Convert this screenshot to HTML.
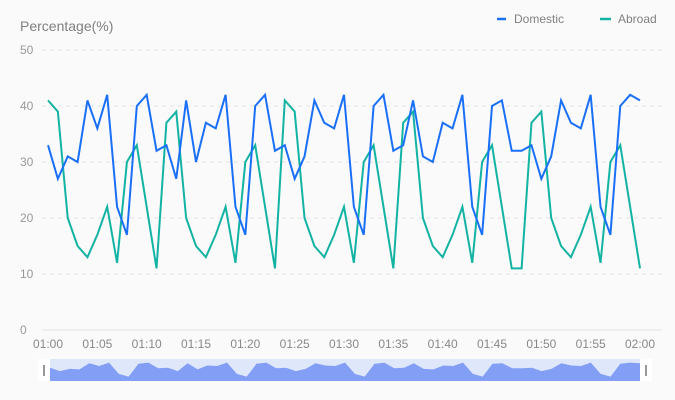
<!DOCTYPE html>
<html><head><meta charset="utf-8"><style>
html,body{margin:0;padding:0;background:#fafafa;}
svg{display:block;font-family:"Liberation Sans",sans-serif;}
</style></head><body>
<svg id="chart" width="675" height="400">
  <rect width="675" height="400" fill="#fafafa"/>
  <text x="20" y="31" font-size="14" fill="#808080">Percentage(%)</text>
  <g>
    <g>
      <line x1="497" y1="19" x2="506" y2="19" stroke="#1a6ff7" stroke-width="2.5"/>
      <text x="514" y="23" font-size="12" fill="#808080">Domestic</text>
    </g>
    <g>
      <line x1="600" y1="19" x2="611" y2="19" stroke="#13b3a3" stroke-width="2.5"/>
      <text x="618" y="23" font-size="12" fill="#808080">Abroad</text>
    </g>
  </g>
  <g id="grid"></g>
  <g id="ylabels"></g>
  <g id="xlabels"></g>
  <g id="series"></g>
  <g id="slider"></g>
</svg>
<script>
const domestic=[33,27,31,30,41,36,42,22,17,40,42,32,33,27,41,30,37,36,42,22,17,40,42,32,33,27,31,41,37,36,42,22,17,40,42,32,33,41,31,30,37,36,42,22,17,40,41,32,32,33,27,31,41,37,36,42,22,17,40,42,41];
const abroad=[41,39,20,15,13,17,22,12,30,33,22,11,37,39,20,15,13,17,22,12,30,33,22,11,41,39,20,15,13,17,22,12,30,33,22,11,37,39,20,15,13,17,22,12,30,33,22,11,11,37,39,20,15,13,17,22,12,30,33,22,11];
const yTicks=[0,10,20,30,40,50];
const xTickLabels=["01:00","01:05","01:10","01:15","01:20","01:25","01:30","01:35","01:40","01:45","01:50","01:55","02:00"];
const NS="http://www.w3.org/2000/svg";
const x0=48,x1=640,yTop=50,yBot=330;
const n=domestic.length;
function xs(i){return x0+(x1-x0)*i/(n-1);}
function ys(v){return yBot-(yBot-yTop)*v/50;}
function mk(tag,attrs,parent){const e=document.createElementNS(NS,tag);for(const k in attrs)e.setAttribute(k,attrs[k]);parent.appendChild(e);return e;}
const grid=document.getElementById('grid'),yl=document.getElementById('ylabels'),xl=document.getElementById('xlabels'),ser=document.getElementById('series'),sl=document.getElementById('slider');
yTicks.forEach(t=>{
  const g=mk('line',{x1:42,x2:662,y1:ys(t),y2:ys(t),stroke:'#e3e3e3','stroke-dasharray':t===0?'none':'4,4'},grid);
  
  
  const tx=mk('text',{x:20,y:ys(t)+4,'font-size':12,fill:'#999'},yl);
  tx.textContent=t;
  
  
});
xTickLabels.forEach((l,i)=>{
  const tx=mk('text',{x:xs(i*5),y:348,'font-size':12,fill:'#888','text-anchor':'middle'},xl);
  tx.textContent=l;
  
  
});
function line(data,color,name){
  const p=mk('polyline',{points:data.map((v,i)=>xs(i)+','+ys(v)).join(' '),fill:'none',stroke:color,'stroke-width':2,'stroke-linejoin':'miter'},ser);
  
  
}
line(abroad,'#13b3a3','abroad-line');
line(domestic,'#1a6ff7','domestic-line');
// slider
const sb=mk('rect',{x:50,y:359,width:590,height:22,fill:'#dfe7fb'},sl);


function sy(v){return Math.min(381,386.2-0.56*v);}
let pts='50,381 '+domestic.map((v,i)=>(50+590*i/(n-1))+','+sy(v)).join(' ')+' 640,381';
const ar=mk('polygon',{points:pts,fill:'#829ef5'},sl);


[[38,'slider-handle-left'],[640,'slider-handle-right']].forEach(([x,nm])=>{
  const g=mk('g',{},sl);
  
  
  mk('rect',{x:x,y:359,width:12,height:22,fill:'#fff'},g);
  mk('line',{x1:x+6,x2:x+6,y1:365,y2:376,stroke:'#333','stroke-width':1},g);
});
</script>
</body></html>
